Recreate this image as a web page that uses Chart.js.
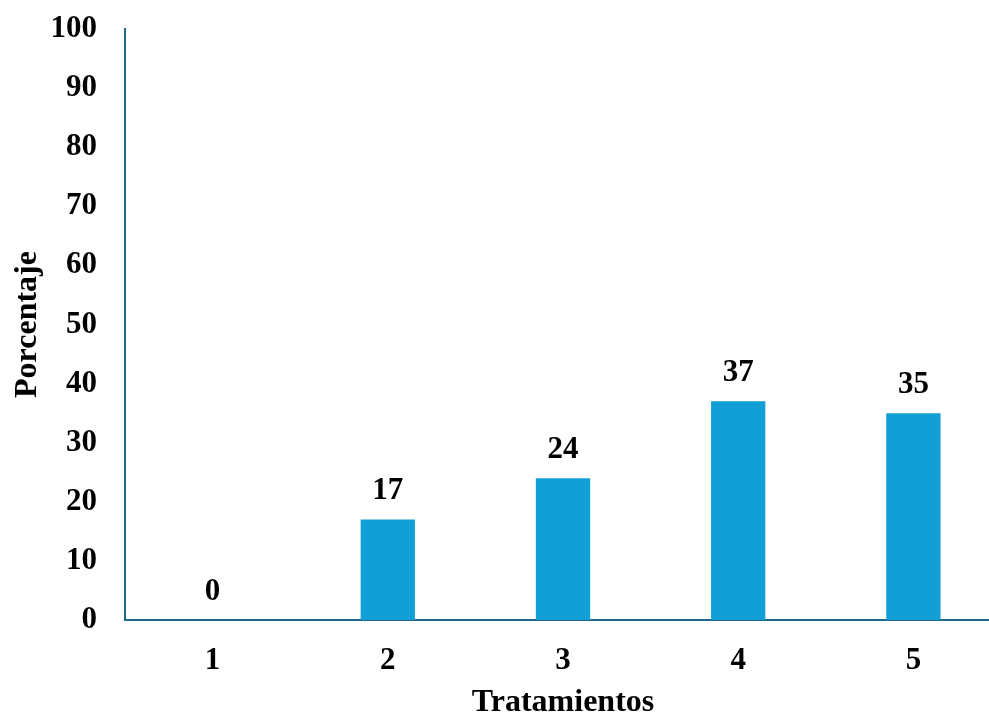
<!DOCTYPE html>
<html>
<head>
<meta charset="utf-8">
<script src="https://cdn.jsdelivr.net/npm/chart.js@4.4.1/dist/chart.umd.min.js"></script>
<style>
  html, body { margin: 0; padding: 0; background: #fff; overflow: hidden; }
  #wrap { width: 1001px; height: 714px; position: relative; }
</style>
</head>
<body>
<div id="wrap"><canvas id="c"></canvas></div>
<script>
const categories = ['1', '2', '3', '4', '5'];
const porcentaje = [0, 17, 24, 37, 35];
const yTicks = [0, 10, 20, 30, 40, 50, 60, 70, 80, 90, 100];

const FONT = '"Liberation Serif", "Times New Roman", serif';
const AXIS = '#22668A';
const BAR = '#129FD6';

// Writes each bar's value above it
const valueLabels = {
  id: 'valueLabels',
  afterDatasetsDraw(chart) {
    const ctx = chart.ctx;
    const meta = chart.getDatasetMeta(0);
    ctx.save();
    ctx.font = 'bold 31px ' + FONT;
    ctx.fillStyle = '#000';
    ctx.textAlign = 'center';
    ctx.textBaseline = 'bottom';
    meta.data.forEach((bar, i) => {
      ctx.fillText(String(porcentaje[i]), bar.x, bar.y - 13);
    });
    ctx.restore();
  }
};

new Chart(document.getElementById('c'), {
  type: 'bar',
  data: {
    labels: categories,
    datasets: [{
      data: porcentaje,
      backgroundColor: BAR,
      borderWidth: 0,
      barPercentage: 0.31,
      categoryPercentage: 1
    }]
  },
  options: {
    responsive: true,
    maintainAspectRatio: false,
    animation: false,
    layout: { padding: { top: 29, right: 0, left: 9, bottom: 0 } },
    plugins: { legend: { display: false }, tooltip: { enabled: false } },
    scales: {
      x: {
        grid: { display: false, drawTicks: false },
        border: { color: AXIS, width: 2 },
        ticks: { color: '#000', font: { family: FONT, size: 31, weight: 'bold' }, padding: 22 },
        title: { display: true, text: 'Tratamientos', color: '#000', font: { family: FONT, size: 32, weight: 'bold', lineHeight: 0.7 }, padding: 0 },
        afterFit(s) { s.height = 94; s.paddingLeft = 0; s.paddingRight = 0; }
      },
      y: {
        min: 0, max: 100,
        afterBuildTicks(s) { s.ticks = yTicks.map(v => ({ value: v })); },
        grid: { display: false, drawTicks: false },
        border: { color: AXIS, width: 2 },
        ticks: { color: '#000', font: { family: FONT, size: 31, weight: 'bold' }, padding: 28 },
        title: { display: true, text: 'Porcentaje', color: '#000', font: { family: FONT, size: 32, weight: 'bold' }, padding: 0 },
        afterFit(s) { s.width = 116; s.paddingTop = 0; s.paddingBottom = 0; }
      }
    }
  },
  plugins: [valueLabels]
});
</script>
</body>
</html>
